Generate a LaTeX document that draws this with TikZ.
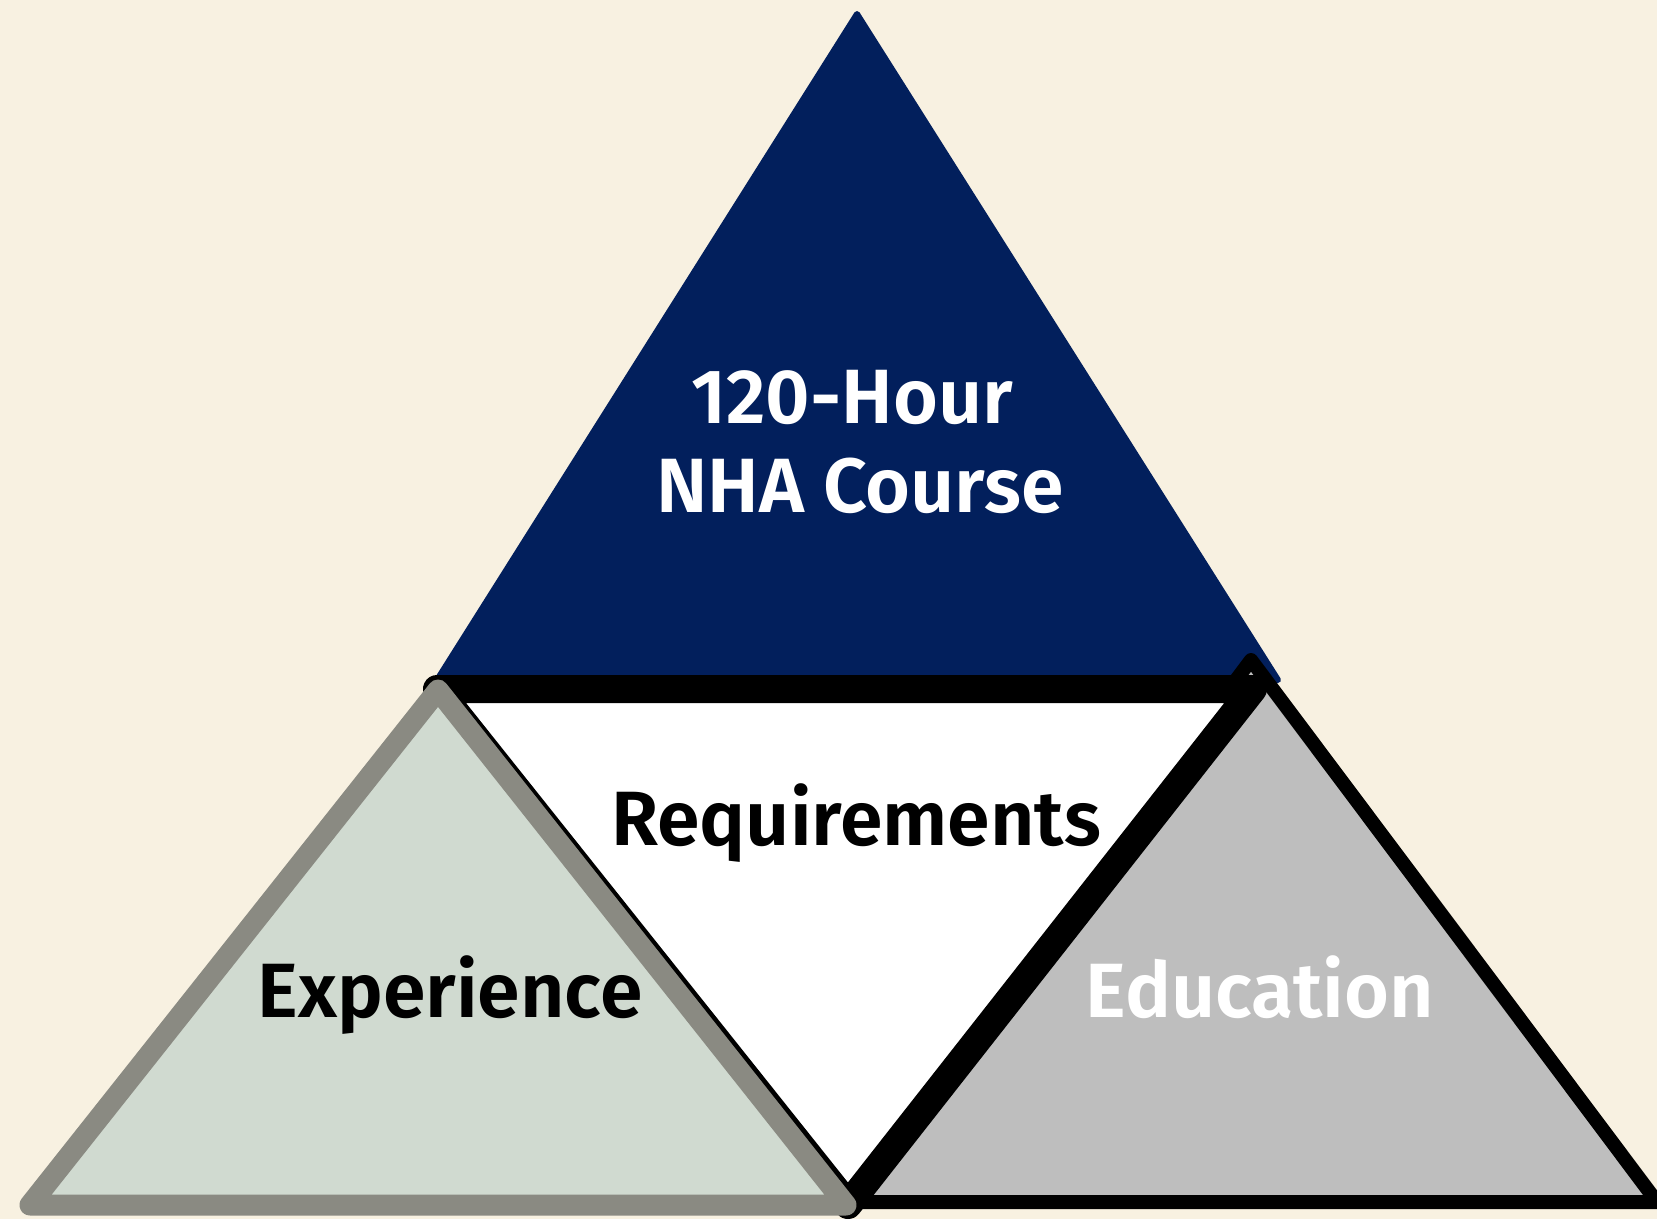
\documentclass[tikz,border=0pt]{standalone}
\usepackage{fontspec}
\setmainfont{Fira Sans}[BoldFont={Fira Sans SemiBold}]
\definecolor{cream}{RGB}{248,241,225}
\definecolor{navy}{RGB}{2,31,92}
\definecolor{sage}{RGB}{208,218,208}
\definecolor{sagedark}{RGB}{138,138,130}
\definecolor{lightgray}{RGB}{190,190,190}
\tikzset{
  lbl/.style={anchor=base, inner sep=0pt, font=\fontsize{38.5}{40}\selectfont\bfseries},
}
\begin{document}
\begin{tikzpicture}[x=0.5pt,y=-0.5pt,line join=round,line cap=round]
\useasboundingbox (0,0) rectangle (1657,1219);
\fill[cream] (0,0) rectangle (1657,1219);
% top navy triangle
\filldraw[fill=navy,draw=navy,line width=3pt] (857,14) -- (437,680) -- (1278,680) -- cycle;
% right triangle (Education)
\filldraw[fill=lightgray,draw=black,line width=7pt] (1251,660) -- (845,1202) -- (1657,1202) -- cycle;
% middle white triangle (Requirements)
\filldraw[fill=white,draw=black,line width=14pt] (437,689) -- (1253,689) -- (848,1205) -- cycle;
% left triangle (Experience)
\filldraw[fill=sage,draw=sagedark,line width=10.5pt] (438,690) -- (30,1205) -- (846,1205) -- cycle;
% texts
\node[lbl,text=white] (t1) at (852,423) {120-Hour};
\node[lbl,text=white] (t2) at (860,512) {NHA Course};
\node[lbl,text=black] (req) at (856,845) {Requirements};
\node[lbl,text=black] (exp) at (450,1017) {Experience};
\node[lbl,text=white] (edu) at (1260,1017) {Education};
\end{tikzpicture}
\end{document}
